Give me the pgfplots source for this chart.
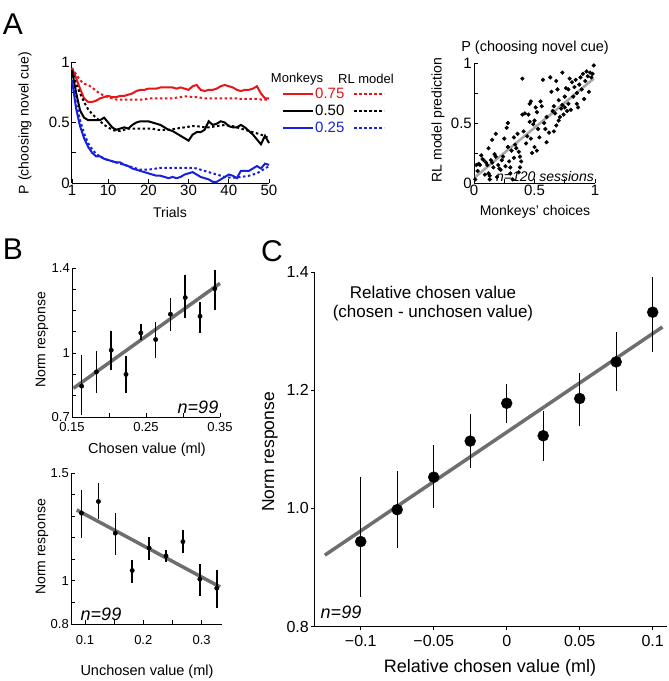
\documentclass[border=0pt]{standalone}
\usepackage{fontspec}
\setmainfont{Liberation Sans}
\usepackage{pgfplots}
\usepackage{pgfplotstable}
\pgfplotsset{compat=1.18}

\definecolor{mred}{RGB}{232,22,24}
\definecolor{mblue}{RGB}{22,32,225}
\definecolor{fitgray}{RGB}{110,110,110}
\definecolor{lightfit}{RGB}{168,168,168}
\newcommand{\fs}[1]{\fontsize{#1}{#1}\selectfont}

% trial-by-trial P(choosing novel cue): monkeys (s) and RL model (d)
\pgfplotstableread{
t rs rd ks kd bs bd
1 0.95 0.95 0.93 0.93 0.85 0.85
2 0.87 0.90 0.75 0.82 0.62 0.66
3 0.78 0.85 0.60 0.74 0.47 0.52
4 0.70 0.82 0.54 0.67 0.37 0.41
5 0.67 0.81 0.52 0.61 0.30 0.33
6 0.67 0.79 0.52 0.57 0.25 0.28
7 0.68 0.76 0.52 0.54 0.22 0.24
8 0.70 0.74 0.52 0.51 0.22 0.22
9 0.71 0.72 0.54 0.48 0.20 0.20
10 0.72 0.71 0.50 0.46 0.19 0.19
11 0.71 0.70 0.46 0.44 0.18 0.18
12 0.71 0.69 0.44 0.43 0.17 0.17
13 0.72 0.69 0.45 0.43 0.17 0.16
14 0.72 0.69 0.46 0.44 0.15 0.15
15 0.73 0.69 0.45 0.45 0.14 0.14
16 0.74 0.69 0.48 0.45 0.12 0.13
17 0.76 0.69 0.50 0.45 0.11 0.12
18 0.77 0.69 0.51 0.45 0.10 0.11
19 0.77 0.69 0.51 0.45 0.09 0.11
20 0.78 0.70 0.51 0.45 0.08 0.11
21 0.78 0.70 0.50 0.45 0.07 0.115
22 0.78 0.70 0.49 0.44 0.06 0.12
23 0.79 0.70 0.48 0.44 0.06 0.125
24 0.79 0.70 0.46 0.44 0.05 0.125
25 0.79 0.70 0.44 0.44 0.04 0.125
26 0.79 0.70 0.43 0.445 0.05 0.125
27 0.78 0.705 0.41 0.45 0.04 0.125
28 0.79 0.71 0.39 0.455 0.05 0.125
29 0.78 0.715 0.37 0.46 0.07 0.125
30 0.77 0.715 0.35 0.465 0.08 0.125
31 0.80 0.71 0.40 0.47 0.09 0.125
32 0.81 0.71 0.42 0.47 0.07 0.12
33 0.77 0.705 0.42 0.465 0.05 0.11
34 0.76 0.70 0.44 0.46 0.04 0.10
35 0.77 0.70 0.51 0.46 0.03 0.09
36 0.77 0.70 0.48 0.465 0.01 0.08
37 0.78 0.70 0.49 0.47 0.01 0.07
38 0.80 0.70 0.51 0.475 0.03 0.06
39 0.81 0.70 0.50 0.48 0.05 0.05
40 0.80 0.70 0.47 0.475 0.07 0.045
41 0.79 0.70 0.46 0.47 0.06 0.045
42 0.77 0.70 0.46 0.46 0.04 0.045
43 0.76 0.695 0.48 0.45 0.10 0.05
44 0.77 0.695 0.46 0.44 0.10 0.055
45 0.77 0.695 0.43 0.43 0.10 0.06
46 0.78 0.695 0.40 0.42 0.12 0.07
47 0.80 0.695 0.36 0.41 0.14 0.08
48 0.74 0.69 0.32 0.40 0.12 0.10
49 0.70 0.69 0.39 0.385 0.16 0.12
50 0.70 0.69 0.33 0.37 0.15 0.14
}\dataA

\pgfplotstableread{
x y
0.01 0.03
0.02 0.15
0.04 0.16
0.06 0.23
0.05 0.15
0.08 0.19
0.10 0.17
0.11 0.15
0.12 0.08
0.13 0.06
0.12 0.29
0.13 0.03
0.15 0.36
0.15 0.17
0.16 0.13
0.17 0.24
0.18 0.41
0.18 0.22
0.19 0.05
0.20 0.15
0.21 0.12
0.14 0.19
0.09 0.07
0.07 0.20
0.03 0.10
0.22 0.11
0.23 0.19
0.25 0.37
0.26 0.14
0.27 0.46
0.28 0.30
0.28 0.50
0.29 0.18
0.30 0.13
0.30 0.08
0.31 0.27
0.32 0.03
0.33 0.38
0.34 0.32
0.35 0.29
0.36 0.41
0.37 0.26
0.38 0.22
0.38 0.13
0.39 0.18
0.40 0.87
0.40 0.57
0.37 0.09
0.24 0.22
0.33 0.21
0.41 0.43
0.42 0.58
0.43 0.33
0.44 0.39
0.45 0.57
0.46 0.66
0.47 0.68
0.46 0.51
0.47 0.37
0.48 0.25
0.49 0.49
0.50 0.30
0.50 0.52
0.51 0.63
0.52 0.27
0.52 0.59
0.53 0.45
0.54 0.38
0.55 0.68
0.56 0.64
0.57 0.86
0.58 0.50
0.59 0.45
0.60 0.34
0.60 0.55
0.62 0.42
0.63 0.88
0.64 0.76
0.65 0.60
0.66 0.43
0.66 0.64
0.67 0.58
0.68 0.85
0.68 0.48
0.69 0.78
0.70 0.69
0.70 0.52
0.71 0.55
0.72 0.62
0.73 0.92
0.73 0.65
0.74 0.57
0.75 0.63
0.75 0.72
0.76 0.79
0.77 0.60
0.78 0.78
0.78 0.66
0.79 0.87
0.80 0.61
0.81 0.84
0.82 0.72
0.83 0.80
0.84 0.86
0.85 0.66
0.85 0.75
0.86 0.63
0.87 0.82
0.88 0.88
0.89 0.78
0.90 0.91
0.91 0.70
0.92 0.85
0.93 0.93
0.94 0.89
0.95 0.76
0.96 0.92
0.97 0.88
0.98 0.91
0.99 0.98
}\dataScatter

\pgfplotstableread{
x y ep em
0.163 0.845 0.146 0.136
0.183 0.912 0.099 0.098
0.203 1.014 0.091 0.094
0.223 0.900 0.086 0.086
0.243 1.095 0.044 0.031
0.263 1.064 0.083 0.086
0.283 1.183 0.076 0.080
0.303 1.261 0.105 0.094
0.323 1.173 0.067 0.078
0.343 1.303 0.086 0.098
}\dataBtop

\pgfplotstableread{
x y ep em
0.094 1.314 0.108 0.116
0.123 1.368 0.085 0.082
0.152 1.221 0.093 0.100
0.181 1.048 0.049 0.056
0.210 1.152 0.051 0.055
0.239 1.116 0.028 0.027
0.268 1.182 0.054 0.054
0.297 1.008 0.069 0.078
0.326 0.966 0.085 0.093
}\dataBbot

\pgfplotstableread{
x y ep em
-0.100 0.944 0.109 0.093
-0.075 0.998 0.065 0.065
-0.050 1.053 0.054 0.053
-0.025 1.114 0.045 0.046
0.000 1.178 0.033 0.033
0.025 1.123 0.042 0.043
0.050 1.186 0.043 0.046
0.075 1.248 0.050 0.050
0.100 1.332 0.059 0.068
}\dataC

\pgfplotsset{
  fig/.style={
    scale only axis, anchor=south west, axis lines=left,
    axis line style={-, line width=1pt, black},
    enlargelimits=false, clip=false,
    /pgf/number format/assume math mode=true,
    tick style={line width=0.8pt, black},
    major tick length=4pt, minor tick length=4pt, tick align=inside,
    every tick label/.append style={inner sep=2pt},
  },
  ebar/.style={black, only marks, mark=*,
    error bars/y dir=both, error bars/y explicit, error bars/error mark=none,
    error bars/error bar style={line width=#1}},
}

\begin{document}
\begin{tikzpicture}
\path[use as bounding box] (0pt,0pt) rectangle (669pt,-681pt);

% ---------------- A (left) ----------------
\begin{axis}[fig, at={(72pt,-183pt)}, width=197pt, height=121pt,
  xmin=1, xmax=50, ymin=0, ymax=1,
  xtick={1,10,20,30,40,50}, ytick={0,0.5,1}, yticklabels={0,0.5,1},
  minor ytick={0.25,0.75},
  ticklabel style={font=\fs{15}},
  legend columns=2,
  legend image code/.code={\draw[#1] (0pt,0pt) -- (30pt,0pt);},
  legend style={draw=none, fill=none, inner sep=0pt,
    at={(rel axis cs:1.066,0.80)}, anchor=north west, font=\fs{15},
    nodes={inner sep=1pt, text height=11pt, text depth=3pt},
    row sep=1pt, /tikz/every even column/.append style={column sep=8pt}},
]
\addplot[mred, line width=2pt] table[x=t, y=rs] {\dataA};
\addlegendentry{\textcolor{mred}{0.75}}
\addplot[mred, line width=2pt, dash pattern=on 2.5pt off 2.5pt] table[x=t, y=rd] {\dataA};
\addlegendentry{}
\addplot[black, line width=2pt] table[x=t, y=ks] {\dataA};
\addlegendentry{0.50}
\addplot[black, line width=2pt, dash pattern=on 2.5pt off 2.5pt] table[x=t, y=kd] {\dataA};
\addlegendentry{}
\addplot[mblue, line width=2pt] table[x=t, y=bs] {\dataA};
\addlegendentry{\textcolor{mblue}{0.25}}
\addplot[mblue, line width=2pt, dash pattern=on 2.5pt off 2.5pt] table[x=t, y=bd] {\dataA};
\addlegendentry{}
\end{axis}
\node[font=\fs{30}] at (13pt,-24pt) {A};
\node[font=\fs{14}] at (170pt,-212pt) {Trials};
\node[font=\fs{14}, rotate=90] at (25pt,-123pt) {P (choosing novel cue)};
\node[font=\fs{13}] at (297pt,-79pt) {Monkeys};
\node[font=\fs{13}] at (366pt,-79pt) {RL model};

% ---------------- A (right) ----------------
\begin{axis}[fig, at={(474pt,-183pt)}, width=121pt, height=120pt,
  xmin=0, xmax=1, ymin=0, ymax=1,
  xtick={0,0.5,1}, ytick={0,0.5,1}, xticklabels={0,0.5,1}, yticklabels={0,0.5,1},
  minor xtick={0.25,0.75}, minor ytick={0.25,0.75},
  ticklabel style={font=\fs{15}},
]
\addplot[lightfit, line width=2.6pt] coordinates {(0.01,0.05) (0.99,0.87)};
\addplot[black, only marks, mark=*, mark size=1.9pt] table[x=x, y=y] {\dataScatter};
\end{axis}
\node[font=\fs{14.5}] at (535pt,-48pt) {P (choosing novel cue)};
\node[font=\fs{14}] at (535pt,-212pt) {Monkeys’ choices};
\node[font=\fs{14}, rotate=90] at (438pt,-120pt) {RL model prediction};
\node[font=\fs{14}\itshape] at (545pt,-176pt) {n=120 sessions};

% ---------------- B (top) ----------------
\begin{axis}[fig, at={(72pt,-417pt)}, width=148pt, height=149pt,
  xmin=0.15, xmax=0.35, ymin=0.7, ymax=1.4,
  xtick={0.15,0.25,0.35}, xticklabels={0.15,0.25,0.35}, minor xtick={0.2,0.3},
  ytick={0.7,1,1.4}, yticklabels={0.7,1,1.4}, minor ytick={0.8,0.9,1.1,1.2,1.3},
  ticklabel style={font=\fs{13}},
  xticklabel style={yshift=-3pt},
]
\addplot[fitgray, line width=3.5pt] coordinates {(0.152,0.835) (0.35,1.328)};
\addplot[ebar=1.6pt, mark size=2.2pt]
  table[x=x, y=y, y error plus=ep, y error minus=em] {\dataBtop};
\end{axis}
\node[font=\fs{30}] at (13pt,-249pt) {B};
\node[font=\fs{14.5}] at (147pt,-450pt) {Chosen value (ml)};
\node[font=\fs{14}, rotate=90] at (42pt,-340pt) {Norm response};
\node[font=\fs{18}\itshape] at (198pt,-407pt) {n=99};

% ---------------- B (bottom) ----------------
\begin{axis}[fig, at={(71pt,-624pt)}, width=151pt, height=151pt,
  xmin=0.076, xmax=0.335, ymin=0.8, ymax=1.5,
  xtick={0.1,0.2,0.3}, xticklabels={0.1,0.2,0.3}, minor xtick={0.15,0.25},
  ytick={0.8,1,1.5}, yticklabels={0.8,1,1.5}, minor ytick={0.9,1.1,1.2,1.3,1.4},
  ticklabel style={font=\fs{13}},
  xticklabel style={yshift=-9pt},
]
\addplot[fitgray, line width=3.5pt] coordinates {(0.0858,1.329) (0.3316,0.972)};
\addplot[ebar=1.6pt, mark size=2.2pt]
  table[x=x, y=y, y error plus=ep, y error minus=em] {\dataBbot};
\end{axis}
\node[font=\fs{14.5}] at (147pt,-672pt) {Unchosen value (ml)};
\node[font=\fs{14}, rotate=90] at (42pt,-547pt) {Norm response};
\node[font=\fs{18}\itshape] at (101pt,-614pt) {n=99};

% ---------------- C ----------------
\begin{axis}[fig, at={(314pt,-626.7pt)}, width=352.7pt, height=354.7pt,
  xmin=-0.132, xmax=0.1096, ymin=0.8, ymax=1.4,
  tick align=outside, major tick length=3pt,
  xtick={-0.1,-0.05,0,0.05,0.1}, xticklabels={−0.1,−0.05,0,0.05,0.1},
  ytick={0.8,1,1.2,1.4}, yticklabels={0.8,1.0,1.2,1.4},
  ticklabel style={font=\fs{16}},
  xticklabel style={yshift=-3pt},
]
\addplot[fitgray, line width=3.5pt] coordinates {(-0.1246,0.921) (0.1067,1.307)};
\addplot[ebar=1.3pt, mark size=5.5pt]
  table[x=x, y=y, y error plus=ep, y error minus=em] {\dataC};
\end{axis}
\node[font=\fs{30}] at (272pt,-251pt) {C};
\node[font=\fs{17}] at (433pt,-292pt) {Relative chosen value};
\node[font=\fs{17}] at (433pt,-313pt) {(chosen - unchosen value)};
\node[font=\fs{18}] at (490pt,-668pt) {Relative chosen value (ml)};
\node[font=\fs{17.5}, rotate=90] at (270pt,-452pt) {Norm response};
\node[font=\fs{18}\itshape] at (341pt,-612pt) {n=99};
\end{tikzpicture}
\end{document}
